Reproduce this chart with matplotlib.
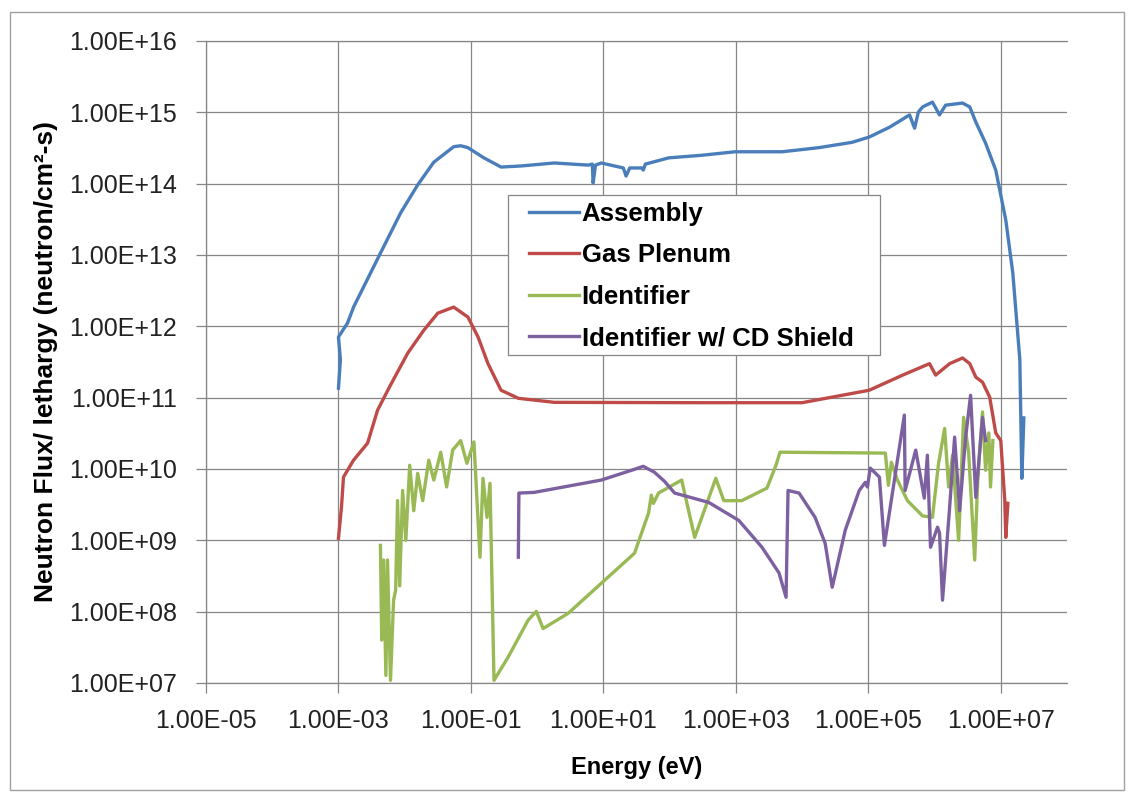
import matplotlib
matplotlib.use('Agg')
import matplotlib.pyplot as plt
from matplotlib.patches import Rectangle

plt.rcParams['font.family'] = ['Liberation Sans', 'DejaVu Sans']

# Assembly -- (energy eV, flux n/cm2-s per lethargy)
ASM_E = [1.0e-3, 1.07e-3, 1.0e-3, 1.37e-3, 1.69e-3, 4.3e-3, 8.7e-3, 1.57e-2, 2.75e-2,
         5.5e-2, 7.0e-2, 9.0e-2, 0.157, 0.285, 0.57, 1.81, 5.9, 6.8, 7.0, 7.6, 9.3,
         20, 22, 25, 38, 40, 43, 97, 305, 970, 5.0e3, 1.8e4, 5.7e4, 1.03e5, 2.1e5,
         4.2e5, 5.0e5, 5.7e5, 6.6e5, 9.3e5, 1.19e6, 1.47e6, 2.65e6, 3.4e6, 4.2e6,
         5.9e6, 8.4e6, 1.19e7, 1.52e7, 1.94e7, 2.08e7, 2.23e7]
ASM_F = [1.36e11, 3.4e11, 7.1e11, 1.11e12, 1.86e12, 1.06e13, 3.9e13, 9.6e13, 2.0e14,
         3.3e14, 3.4e14, 3.2e14, 2.3e14, 1.71e14, 1.77e14, 1.95e14, 1.82e14, 1.88e14,
         1.02e14, 1.82e14, 1.95e14, 1.66e14, 1.28e14, 1.66e14, 1.66e14, 1.55e14,
         1.88e14, 2.3e14, 2.5e14, 2.8e14, 2.8e14, 3.2e14, 3.8e14, 4.5e14, 6.2e14,
         9.2e14, 6.0e14, 1.01e15, 1.19e15, 1.39e15, 9.2e14, 1.26e15, 1.35e15, 1.19e15,
         7.3e14, 3.7e14, 1.55e14, 3.1e13, 5.6e12, 3.4e11, 7.4e9, 5.2e10]

# Gas plenum
GAS_E = [1.0e-3, 1.11e-3, 1.19e-3, 1.69e-3, 2.75e-3, 3.9e-3, 6.1e-3, 1.11e-2, 1.94e-2,
         3.16e-2, 5.5e-2, 9.0e-2, 0.128, 0.181, 0.285, 0.52, 1.81, 305, 1.0e4, 1.03e5,
         3.3e5, 8.4e5, 1.04e6, 1.69e6, 2.65e6, 3.4e6, 4.2e6, 5.3e6, 6.8e6, 8.4e6,
         1.0e7, 1.15e7, 1.19e7, 1.28e7]
GAS_F = [1.07e9, 2.9e9, 7.7e9, 1.33e10, 2.3e10, 6.7e10, 1.5e11, 4.2e11, 8.8e11,
         1.53e12, 1.86e12, 1.35e12, 7.1e11, 3.0e11, 1.27e11, 9.8e10, 8.6e10, 8.5e10,
         8.5e10, 1.27e11, 2.07e11, 3.0e11, 2.07e11, 3.0e11, 3.6e11, 3.0e11, 1.94e11,
         1.65e11, 1.02e11, 3.2e10, 2.5e10, 3.6e9, 1.1e9, 3.3e9]

# Identifier
IDN_E = [4.3e-3, 4.5e-3, 4.8e-3, 5.2e-3, 5.5e-3, 6.1e-3, 6.8e-3, 7.3e-3, 7.8e-3, 8.4e-3,
         9.3e-3, 1.04e-2, 1.19e-2, 1.37e-2, 1.57e-2, 1.87e-2, 2.31e-2, 2.75e-2, 3.5e-2,
         4.3e-2, 5.3e-2, 7.0e-2, 8.7e-2, 0.111, 0.137, 0.152, 0.175, 0.194, 0.223,
         0.364, 0.73, 0.97, 1.23, 2.95, 9.3, 29.5, 48, 53, 57, 68, 152, 239, 498, 658,
         1230, 2950, 4040, 4640, 1.81e5, 2.01e5, 2.23e5, 2.75e5, 3.9e5, 6.6e5, 9.3e5,
         1.15e6, 1.42e6, 1.63e6, 1.87e6, 2.31e6, 2.75e6, 3.27e6, 4.04e6, 4.49e6, 5.3e6,
         5.9e6, 6.6e6, 7.0e6, 7.6e6]
IDN_F = [8.5e8, 4.0e7, 5.3e8, 1.28e7, 5.3e8, 1.09e7, 1.45e8, 2.0e8, 3.6e9, 2.3e8,
         5.0e9, 1.0e9, 1.13e10, 2.6e9, 8.7e9, 3.6e9, 1.33e10, 7.0e9, 1.72e10, 5.6e9,
         1.84e10, 2.5e10, 1.2e10, 2.4e10, 5.8e8, 7.4e9, 2.1e9, 6.3e9, 1.09e7, 2.3e7,
         7.6e7, 1.01e8, 5.8e7, 9.5e7, 2.5e8, 6.6e8, 2.4e9, 4.3e9, 3.3e9, 4.6e9, 7.0e9,
         1.1e9, 7.4e9, 3.6e9, 3.6e9, 5.4e9, 1.13e10, 1.72e10, 1.67e10, 5.9e9, 1.24e10,
         7.0e9, 3.6e9, 2.2e9, 2.1e9, 1.2e10, 3.7e10, 5.6e9, 1.56e10, 1.0e9, 5.3e10,
         1.72e10, 5.3e8, 7.0e9, 6.3e10, 9.6e9, 3.2e10, 5.6e9, 2.5e10]

# Identifier w/ CD shield
CDS_E = [0.52, 0.53, 0.90, 9.3, 29.5, 40, 59, 84, 119, 390, 1110, 2480, 4480, 5730,
         6140, 9000, 1.57e4, 2.23e4, 2.85e4, 4.49e4, 7.3e4, 9.0e4, 9.7e4, 1.07e5,
         1.47e5, 1.75e5, 3.5e5, 3.6e5, 5.2e5, 7.0e5, 7.8e5, 8.7e5, 1.11e6, 1.19e6,
         1.32e6, 1.69e6, 2.01e6, 2.39e6, 2.95e6, 3.5e6, 4.2e6, 5.3e6, 5.9e6]
CDS_F = [5.8e8, 4.6e9, 4.7e9, 7.0e9, 9.9e9, 1.09e10, 9.0e9, 6.7e9, 4.6e9, 3.4e9, 1.9e9,
         8.0e8, 3.5e8, 1.59e8, 5.0e9, 4.6e9, 2.1e9, 9.1e8, 2.2e8, 1.39e9, 5.0e9, 6.5e9,
         5.6e9, 1.03e10, 7.7e9, 8.5e8, 5.7e10, 5.0e9, 1.84e10, 3.9e9, 1.56e10, 8.0e8,
         1.53e9, 1.26e9, 1.45e8, 2.9e9, 2.8e10, 2.6e9, 2.8e10, 1.08e11, 4.0e9, 5.3e10,
         2.5e10]

SERIES = [
    ('Assembly', ASM_E, ASM_F, '#4A7EBB'),
    ('Gas Plenum', GAS_E, GAS_F, '#BE4B48'),
    ('Identifier', IDN_E, IDN_F, '#98B954'),
    ('Identifier w/ CD Shield', CDS_E, CDS_F, '#7D60A0'),
]

X_TICKS = [1e-5, 1e-3, 1e-1, 1e1, 1e3, 1e5, 1e7]
Y_TICKS = [1e7, 1e8, 1e9, 1e10, 1e11, 1e12, 1e13, 1e14, 1e15, 1e16]

W, H = 1134, 793
GRID = '#868686'

fig = plt.figure(figsize=(W / 100, H / 100), dpi=100)
fig.patches.append(Rectangle((10 / W, 3 / H), 1114 / W, 778 / H, transform=fig.transFigure,
                             fill=False, edgecolor='#A0A0A0', lw=1.0))
ax = fig.add_axes([206 / W, 1 - 683 / H, (1067 - 206) / W, (683 - 41) / H])

for name, xs, ys, col in SERIES:
    ax.plot(xs, ys, color=col, lw=2.4, label=name, solid_joinstyle='round')

ax.set_xscale('log')
ax.set_yscale('log')
ax.set_xlim(1e-5, 1e8)
ax.set_ylim(1e7, 1e16)
ax.set_xticks(X_TICKS)
ax.set_xticklabels([f'{v:.2E}' for v in X_TICKS])
ax.set_yticks(Y_TICKS)
ax.set_yticklabels([f'{v:.2E}' for v in Y_TICKS])
ax.minorticks_off()
ax.tick_params(axis='both', labelsize=18, colors=GRID, labelcolor='#222222', length=7,
               width=0.9)
ax.tick_params(axis='x', pad=12)
ax.tick_params(axis='y', pad=14)
ax.grid(True, color=GRID, lw=0.9)
ax.set_axisbelow(True)
for s in ['left', 'bottom', 'top']:
    ax.spines[s].set_color(GRID)
    ax.spines[s].set_linewidth(0.9)
ax.spines['right'].set_visible(False)

ax.set_xlabel('Energy (eV)', fontsize=17, fontweight='bold', labelpad=16)
ax.set_ylabel('Neutron Flux/ lethargy (neutron/cm²-s)', fontsize=19, fontweight='bold',
              labelpad=8)

# legend box drawn by hand: the original has wide side padding but tight top/bottom
box = Rectangle((508 / W, 1 - 355 / H), 372 / W, 160 / H, transform=fig.transFigure,
                facecolor='white', edgecolor=GRID, lw=0.9, zorder=4, clip_on=False)
ax.add_patch(box)
leg = ax.legend(loc='upper left', bbox_to_anchor=(529 / W, 1 - 202 / H),
                bbox_transform=fig.transFigure, frameon=False,
                prop={'size': 18.5, 'weight': 'bold'}, handlelength=1.95,
                handletextpad=0.1, labelspacing=0.68, borderpad=0, borderaxespad=0)
leg.set_zorder(5)

fig.savefig('out.png', dpi=100)
